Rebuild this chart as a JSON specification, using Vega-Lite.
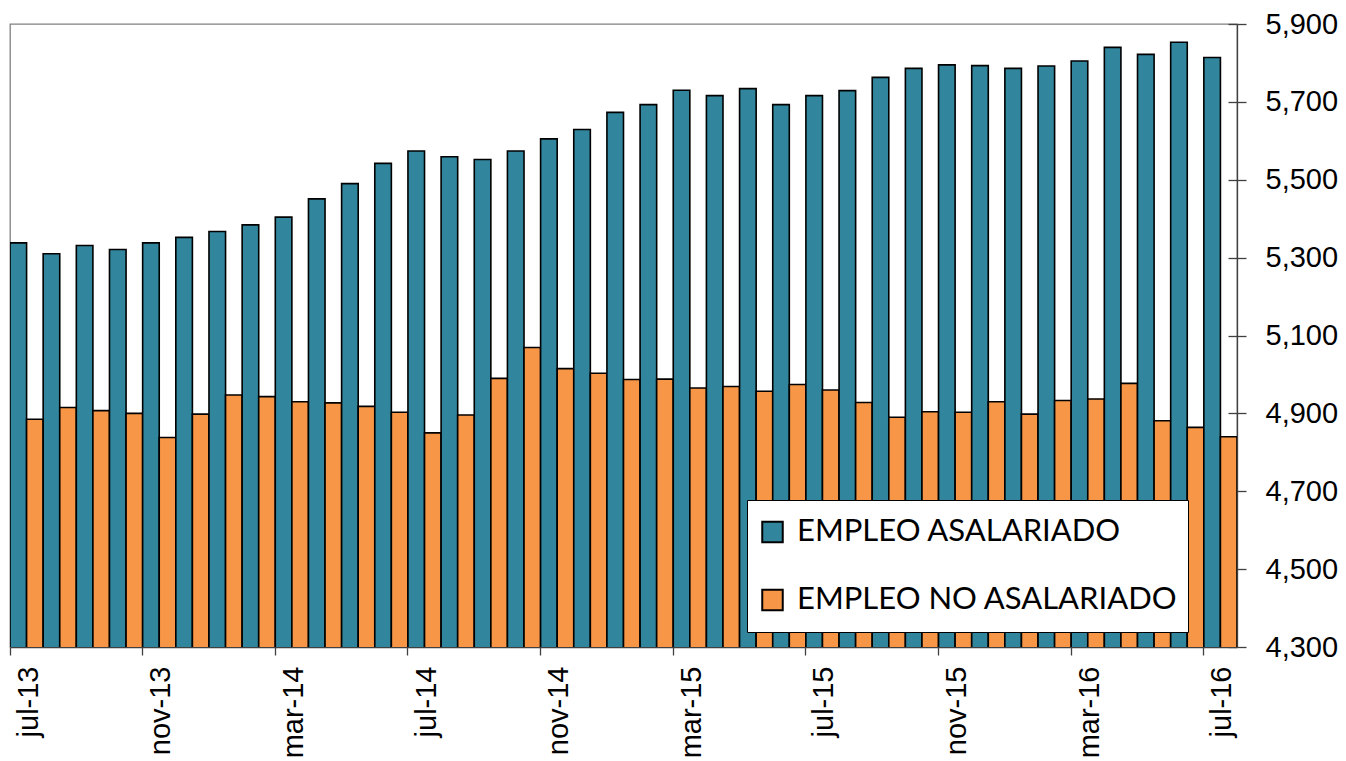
{
  "$schema": "https://vega.github.io/schema/vega-lite/v6.json",
  "width": 1227,
  "height": 623,
  "autosize": {"type": "none"},
  "padding": {"left": 10, "top": 24, "right": 109, "bottom": 114},
  "background": "white",
  "config": {
    "view": {"stroke": "#808080", "strokeWidth": 1.3},
    "font": "Liberation Sans"
  },
  "data": {
    "values": [
      {"mes": "jul-13", "serie": "EMPLEO ASALARIADO", "valor": 5338},
      {"mes": "jul-13", "serie": "EMPLEO NO ASALARIADO", "valor": 4885},
      {"mes": "ago-13", "serie": "EMPLEO ASALARIADO", "valor": 5310},
      {"mes": "ago-13", "serie": "EMPLEO NO ASALARIADO", "valor": 4915},
      {"mes": "sep-13", "serie": "EMPLEO ASALARIADO", "valor": 5331},
      {"mes": "sep-13", "serie": "EMPLEO NO ASALARIADO", "valor": 4907},
      {"mes": "oct-13", "serie": "EMPLEO ASALARIADO", "valor": 5321},
      {"mes": "oct-13", "serie": "EMPLEO NO ASALARIADO", "valor": 4900},
      {"mes": "nov-13", "serie": "EMPLEO ASALARIADO", "valor": 5338},
      {"mes": "nov-13", "serie": "EMPLEO NO ASALARIADO", "valor": 4838},
      {"mes": "dic-13", "serie": "EMPLEO ASALARIADO", "valor": 5352},
      {"mes": "dic-13", "serie": "EMPLEO NO ASALARIADO", "valor": 4898},
      {"mes": "ene-14", "serie": "EMPLEO ASALARIADO", "valor": 5367},
      {"mes": "ene-14", "serie": "EMPLEO NO ASALARIADO", "valor": 4947},
      {"mes": "feb-14", "serie": "EMPLEO ASALARIADO", "valor": 5384},
      {"mes": "feb-14", "serie": "EMPLEO NO ASALARIADO", "valor": 4943},
      {"mes": "mar-14", "serie": "EMPLEO ASALARIADO", "valor": 5404},
      {"mes": "mar-14", "serie": "EMPLEO NO ASALARIADO", "valor": 4930},
      {"mes": "abr-14", "serie": "EMPLEO ASALARIADO", "valor": 5451},
      {"mes": "abr-14", "serie": "EMPLEO NO ASALARIADO", "valor": 4927},
      {"mes": "may-14", "serie": "EMPLEO ASALARIADO", "valor": 5490},
      {"mes": "may-14", "serie": "EMPLEO NO ASALARIADO", "valor": 4918},
      {"mes": "jun-14", "serie": "EMPLEO ASALARIADO", "valor": 5542},
      {"mes": "jun-14", "serie": "EMPLEO NO ASALARIADO", "valor": 4903},
      {"mes": "jul-14", "serie": "EMPLEO ASALARIADO", "valor": 5574},
      {"mes": "jul-14", "serie": "EMPLEO NO ASALARIADO", "valor": 4850},
      {"mes": "ago-14", "serie": "EMPLEO ASALARIADO", "valor": 5559},
      {"mes": "ago-14", "serie": "EMPLEO NO ASALARIADO", "valor": 4896},
      {"mes": "sep-14", "serie": "EMPLEO ASALARIADO", "valor": 5552},
      {"mes": "sep-14", "serie": "EMPLEO NO ASALARIADO", "valor": 4990},
      {"mes": "oct-14", "serie": "EMPLEO ASALARIADO", "valor": 5574},
      {"mes": "oct-14", "serie": "EMPLEO NO ASALARIADO", "valor": 5069},
      {"mes": "nov-14", "serie": "EMPLEO ASALARIADO", "valor": 5605},
      {"mes": "nov-14", "serie": "EMPLEO NO ASALARIADO", "valor": 5015},
      {"mes": "dic-14", "serie": "EMPLEO ASALARIADO", "valor": 5629},
      {"mes": "dic-14", "serie": "EMPLEO NO ASALARIADO", "valor": 5003},
      {"mes": "ene-15", "serie": "EMPLEO ASALARIADO", "valor": 5673},
      {"mes": "ene-15", "serie": "EMPLEO NO ASALARIADO", "valor": 4987},
      {"mes": "feb-15", "serie": "EMPLEO ASALARIADO", "valor": 5693},
      {"mes": "feb-15", "serie": "EMPLEO NO ASALARIADO", "valor": 4988},
      {"mes": "mar-15", "serie": "EMPLEO ASALARIADO", "valor": 5730},
      {"mes": "mar-15", "serie": "EMPLEO NO ASALARIADO", "valor": 4965},
      {"mes": "abr-15", "serie": "EMPLEO ASALARIADO", "valor": 5716},
      {"mes": "abr-15", "serie": "EMPLEO NO ASALARIADO", "valor": 4969},
      {"mes": "may-15", "serie": "EMPLEO ASALARIADO", "valor": 5734},
      {"mes": "may-15", "serie": "EMPLEO NO ASALARIADO", "valor": 4957},
      {"mes": "jun-15", "serie": "EMPLEO ASALARIADO", "valor": 5693},
      {"mes": "jun-15", "serie": "EMPLEO NO ASALARIADO", "valor": 4974},
      {"mes": "jul-15", "serie": "EMPLEO ASALARIADO", "valor": 5716},
      {"mes": "jul-15", "serie": "EMPLEO NO ASALARIADO", "valor": 4960},
      {"mes": "ago-15", "serie": "EMPLEO ASALARIADO", "valor": 5729},
      {"mes": "ago-15", "serie": "EMPLEO NO ASALARIADO", "valor": 4928},
      {"mes": "sep-15", "serie": "EMPLEO ASALARIADO", "valor": 5763},
      {"mes": "sep-15", "serie": "EMPLEO NO ASALARIADO", "valor": 4890},
      {"mes": "oct-15", "serie": "EMPLEO ASALARIADO", "valor": 5786},
      {"mes": "oct-15", "serie": "EMPLEO NO ASALARIADO", "valor": 4904},
      {"mes": "nov-15", "serie": "EMPLEO ASALARIADO", "valor": 5795},
      {"mes": "nov-15", "serie": "EMPLEO NO ASALARIADO", "valor": 4903},
      {"mes": "dic-15", "serie": "EMPLEO ASALARIADO", "valor": 5793},
      {"mes": "dic-15", "serie": "EMPLEO NO ASALARIADO", "valor": 4930},
      {"mes": "ene-16", "serie": "EMPLEO ASALARIADO", "valor": 5786},
      {"mes": "ene-16", "serie": "EMPLEO NO ASALARIADO", "valor": 4898},
      {"mes": "feb-16", "serie": "EMPLEO ASALARIADO", "valor": 5792},
      {"mes": "feb-16", "serie": "EMPLEO NO ASALARIADO", "valor": 4933},
      {"mes": "mar-16", "serie": "EMPLEO ASALARIADO", "valor": 5805},
      {"mes": "mar-16", "serie": "EMPLEO NO ASALARIADO", "valor": 4937},
      {"mes": "abr-16", "serie": "EMPLEO ASALARIADO", "valor": 5840},
      {"mes": "abr-16", "serie": "EMPLEO NO ASALARIADO", "valor": 4977},
      {"mes": "may-16", "serie": "EMPLEO ASALARIADO", "valor": 5822},
      {"mes": "may-16", "serie": "EMPLEO NO ASALARIADO", "valor": 4881},
      {"mes": "jun-16", "serie": "EMPLEO ASALARIADO", "valor": 5853},
      {"mes": "jun-16", "serie": "EMPLEO NO ASALARIADO", "valor": 4864},
      {"mes": "jul-16", "serie": "EMPLEO ASALARIADO", "valor": 5814},
      {"mes": "jul-16", "serie": "EMPLEO NO ASALARIADO", "valor": 4840}
    ]
  },
  "layer": [
    {
      "mark": {"type": "bar", "stroke": "black", "strokeWidth": 1.6, "clip": true},
      "encoding": {
        "x": {
          "field": "mes",
          "type": "nominal",
          "sort": null,
          "scale": {"paddingInner": 0, "paddingOuter": 0},
          "axis": {
            "title": null,
            "values": ["jul-13", "nov-13", "mar-14", "jul-14", "nov-14", "mar-15", "jul-15", "nov-15", "mar-16", "jul-16"],
            "bandPosition": 0,
            "labelAngle": -90,
            "labelAlign": "right",
            "labelBaseline": "middle",
            "labelOffset": 2,
            "labelPadding": 11,
            "labelFont": "Liberation Sans",
            "labelFontSize": 29,
            "labelColor": "black",
            "labelOverlap": false,
            "tickSize": 8,
            "tickColor": "#404040",
            "tickWidth": 1.3,
            "domainColor": "#404040",
            "domainWidth": 1.3,
            "grid": false
          }
        },
        "xOffset": {
          "field": "serie",
          "type": "nominal",
          "sort": ["EMPLEO ASALARIADO", "EMPLEO NO ASALARIADO"],
          "scale": {"paddingInner": 0, "paddingOuter": 0}
        },
        "y": {
          "field": "valor",
          "type": "quantitative",
          "scale": {"domain": [4300, 5900], "zero": false, "nice": false},
          "axis": {
            "title": null,
            "orient": "right",
            "values": [4300, 4500, 4700, 4900, 5100, 5300, 5500, 5700, 5900],
            "format": ",.0f",
            "labelFont": "Liberation Sans",
            "labelFontSize": 29,
            "labelColor": "black",
            "labelPadding": 19,
            "labelOverlap": false,
            "tickSize": 9,
            "tickColor": "#404040",
            "tickWidth": 1.3,
            "domainColor": "#404040",
            "domainWidth": 1.3,
            "grid": false
          }
        },
        "color": {
          "field": "serie",
          "type": "nominal",
          "scale": {
            "domain": ["EMPLEO ASALARIADO", "EMPLEO NO ASALARIADO"],
            "range": ["#31859C", "#F79646"]
          },
          "legend": {
            "title": null,
            "orient": "none",
            "legendX": 737,
            "legendY": 476,
            "direction": "vertical",
            "fillColor": "white",
            "strokeColor": "black",
            "padding": 10,
            "symbolType": "square",
            "symbolSize": 420,
            "symbolStrokeColor": "black",
            "symbolStrokeWidth": 2,
            "symbolOpacity": 1,
            "labelFont": "Lato",
            "labelFontSize": 31,
            "labelColor": "black",
            "labelOffset": 9,
            "labelLimit": 0,
            "clipHeight": 44,
            "rowPadding": 24
          }
        }
      }
    },
    {
      "mark": {"type": "rule", "opacity": 0},
      "encoding": {
        "y": {
          "field": "valor",
          "type": "quantitative",
          "axis": {
            "title": null,
            "orient": "right",
            "offset": -9,
            "values": [4300, 4500, 4700, 4900, 5100, 5300, 5500, 5700, 5900],
            "labels": false,
            "domain": false,
            "tickSize": 9,
            "tickColor": "#404040",
            "tickWidth": 1.3,
            "grid": false
          }
        }
      }
    }
  ],
  "resolve": {"axis": {"y": "independent"}}
}
